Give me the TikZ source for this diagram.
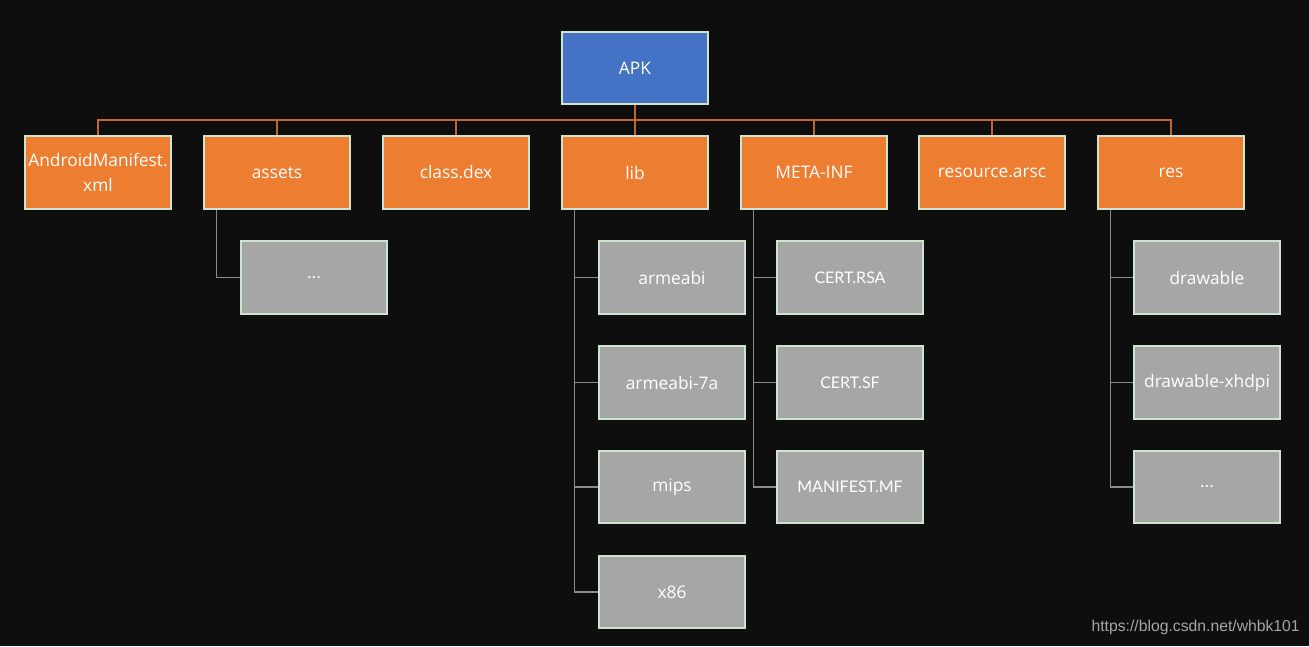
\documentclass[tikz,border=0pt]{standalone}
\usepackage{fontspec}
\setmainfont{Open Sans}
\newfontfamily\urlfont{Liberation Sans}
\newfontfamily\thinfont{Lato}
\usetikzlibrary{positioning}

\definecolor{bgdark}{HTML}{0E0E0E}
\definecolor{apkblue}{HTML}{4472C4}
\definecolor{dirorange}{HTML}{ED7D31}
\definecolor{linkorange}{HTML}{C5652A}
\definecolor{filegray}{HTML}{A6A6A6}
\definecolor{edgegreen}{HTML}{CFE4CF}
\definecolor{spinegray}{HTML}{8C8C8C}

\tikzset{
  box/.style={draw=edgegreen, line width=1.5pt, minimum width=110pt, minimum height=54.5pt,
    inner sep=0pt, text=white, font=\fontsize{13}{18.5}\selectfont, align=center},
  rootbox/.style={box, fill=apkblue},
  dirbox/.style={box, fill=dirorange},
  filebox/.style={box, fill=filegray},
  thinbox/.style={filebox, font=\thinfont\fontsize{12}{15}\selectfont},
  busline/.style={draw=linkorange, line width=1pt},
  spine/.style={draw=spinegray, line width=1pt},
}

\begin{document}
\begin{tikzpicture}[x=0.75pt, y=-0.75pt]
  % background and page size
  \fill [bgdark] (0, 0) rectangle (1309, 646);
  \useasboundingbox (0, 0) rectangle (1309, 646);

  % root
  \node [rootbox] (apk) at (635, 68) {APK};
  \coordinate (bus) at (635, 120);

  % top level entries
  \node [dirbox] (manifest) at (98, 172.5) {AndroidManifest.\\xml};
  \node [dirbox] (assets) at (277, 172.5) {assets};
  \node [dirbox] (classdex) at (456, 172.5) {class.dex};
  \node [dirbox] (lib) at (635, 172.5) {lib};
  \node [dirbox] (metainf) at (814, 172.5) {META-INF};
  \node [dirbox] (arsc) at (992, 172.5) {resource.arsc};
  \node [dirbox] (res) at (1171, 172.5) {res};

  % connectors from the root
  \foreach \dir in {manifest, assets, classdex, lib, metainf, arsc, res}
    \draw [busline] (apk.south) -- (apk.south |- bus) -| (\dir.north);

  % assets contents
  \node [filebox] (assetsmore) at (314, 277.5) {...};

  % lib contents
  \node [filebox] (armeabi) at (672, 277.5) {armeabi};
  \node [filebox] (armeabiv7a) at (672, 382.5) {armeabi-7a};
  \node [filebox] (mips) at (672, 487) {mips};
  \node [filebox] (xeightysix) at (672, 592) {x86};

  % META-INF contents
  \node [thinbox] (certrsa) at (850, 277.5) {CERT.RSA};
  \node [thinbox] (certsf) at (850, 382.5) {CERT.SF};
  \node [thinbox] (manifestmf) at (850, 487) {MANIFEST.MF};

  % res contents
  \node [filebox] (drawable) at (1207, 277.5) {drawable};
  \node [filebox] (drawablexhdpi) at (1207, 382.5) {drawable-xhdpi};
  \node [filebox] (resmore) at (1207, 487) {...};

  % tree spines
  \foreach \item in {assetsmore}
    \draw [spine] ([xshift=10.5pt]assets.south west) |- (\item.west);
  \foreach \item in {armeabi, armeabiv7a, mips, xeightysix}
    \draw [spine] ([xshift=10.5pt]lib.south west) |- (\item.west);
  \foreach \item in {certrsa, certsf, manifestmf}
    \draw [spine] ([xshift=10.5pt]metainf.south west) |- (\item.west);
  \foreach \item in {drawable, drawablexhdpi, resmore}
    \draw [spine] ([xshift=10.5pt]res.south west) |- (\item.west);

  % watermark
  \node [anchor=east, text=filegray, font=\urlfont\fontsize{11.8}{14}\selectfont, inner sep=0pt] (watermark) at (1300, 627) {https://blog.csdn.net/whbk101};
\end{tikzpicture}
\end{document}
